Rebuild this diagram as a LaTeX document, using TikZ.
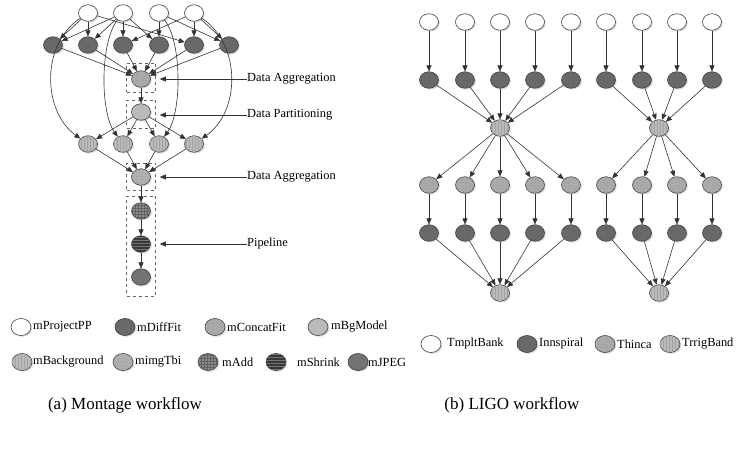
\documentclass[tikz,border=0pt]{standalone}
\usepackage{fontspec}
\setmainfont{Liberation Serif}
\usetikzlibrary{shapes.geometric,arrows.meta,shadows,patterns}
\begin{document}
\begin{tikzpicture}[x=1pt,y=-1pt,
 job/.style={ellipse,draw=black!75,line width=0.6pt,minimum width=19pt,minimum height=16.5pt,inner sep=0pt,
   drop shadow={shadow xshift=1.3pt,shadow yshift=-1.3pt,fill=black!20,opacity=0.7}},
 wjob/.style={job,fill=white},
 darkjob/.style={job,fill=black!58,postaction={pattern=crosshatch dots,pattern color=black!63}},
 crossjob/.style={job,fill=black!32,postaction={pattern=crosshatch dots,pattern color=black!42}},
 bgmjob/.style={job,fill=black!27},
 vertjob/.style={job,fill=black!27,postaction={pattern=vertical lines,pattern color=black!36}},
 tbljob/.style={job,fill=black!30,postaction={pattern=crosshatch dots,pattern color=black!40}},
 addjob/.style={job,fill=black!45,postaction={pattern=grid,pattern color=black!62}},
 shrinkjob/.style={job,fill=black!78,postaction={pattern=horizontal lines,pattern color=black!55}},
 jpegjob/.style={job,fill=black!55},
 conn/.style={draw=black!80,line width=0.6pt,-{Triangle[length=6pt,width=5pt]}},
 dbox/.style={draw=black!60,dashed,line width=0.6pt,inner sep=0pt},
 lab/.style={font=\fontsize{12.4}{14}\selectfont,anchor=west,inner sep=0pt},
 captxt/.style={font=\fontsize{17}{20}\selectfont,inner sep=0pt},
 legj/.style={minimum width=20pt,minimum height=17pt},
]
\useasboundingbox (0,0) rectangle (737,454);

% ---------------- Montage ----------------
\node[wjob] (T1) at (88,13) {};
\node[wjob] (T2) at (123,13) {};
\node[wjob] (T3) at (159,13) {};
\node[wjob] (T4) at (194,13) {};
\node[darkjob] (D1) at (53,45) {};
\node[darkjob] (D2) at (88,45) {};
\node[darkjob] (D3) at (123,45) {};
\node[darkjob] (D4) at (159,45) {};
\node[darkjob] (D5) at (194,45) {};
\node[darkjob] (D6) at (229,45) {};
\node[crossjob] (C) at (141,79) {};
\node[bgmjob] (M) at (141,112) {};
\node[vertjob] (B1) at (88,144) {};
\node[vertjob] (B2) at (123,144) {};
\node[vertjob] (B3) at (159,144) {};
\node[vertjob] (B4) at (194,144) {};
\node[tbljob] (I) at (141,177) {};
\node[addjob] (A) at (141,211) {};
\node[shrinkjob] (S) at (141,244) {};
\node[jpegjob] (J) at (141,277) {};

\node[dbox,minimum width=29pt,minimum height=29pt] (box1) at (141,77.5) {};
\node[dbox,minimum width=29pt,minimum height=28pt] (box2) at (141,114) {};
\node[dbox,minimum width=29pt,minimum height=27pt] (box3) at (141,176.5) {};
\node[dbox,minimum width=29pt,minimum height=100pt] (box4) at (141,246) {};

\foreach \a/\b in {T1/D1,T1/D2,T1/D5,T2/D1,T2/D2,T2/D3,T2/D4,T3/D4,T3/D6,T4/D3,T4/D5,T4/D6,
  D1/C,D2/C,D3/C,D4/C,D5/C,D6/C,C/M,M/B1,M/B2,M/B3,M/B4,B1/I,B2/I,B3/I,B4/I,I/A,A/S,S/J}
  \draw[conn] (\a) -- (\b);
\draw[conn] (T1) .. controls (40,45) and (43,112) .. (B1);
\draw[conn] (T2) .. controls (100,42) and (100,112) .. (B2);
\draw[conn] (T3) .. controls (182,42) and (182,112) .. (B3);
\draw[conn] (T4) .. controls (242,45) and (240,112) .. (B4);

\node[lab] (L1) at (247,79) {Data Aggregation};
\node[lab] (L2) at (247,115) {Data Partitioning};
\node[lab] (L3) at (247,177) {Data Aggregation};
\node[lab] (L4) at (247,244) {Pipeline};
\draw[conn,shorten >=4pt] (L1.west) -- (L1.west -| box1.east);
\draw[conn,shorten >=4pt] (L2.west) -- (L2.west -| box2.east);
\draw[conn,shorten >=4pt] (L3.west) -- (L3.west -| box3.east);
\draw[conn,shorten >=4pt] (L4.west) -- (L4.west -| box4.east);

% Montage legend
\node[wjob,legj] (k1) at (21,327) {};
\node[lab] (k1t) at (33,327) {mProjectPP};
\node[darkjob,legj] (k2) at (125,327) {};
\node[lab] (k2t) at (137,327) {mDiffFit};
\node[crossjob,legj] (k3) at (215,327) {};
\node[lab] (k3t) at (227,327) {mConcatFit};
\node[bgmjob,legj] (k4) at (318,327) {};
\node[lab] (k4t) at (331,327) {mBgModel};
\node[vertjob,legj] (k5) at (22,362) {};
\node[lab] (k5t) at (33,362) {mBackground};
\node[tbljob,legj] (k6) at (123,362) {};
\node[lab] (k6t) at (135,362) {mimgTbi};
\node[addjob,legj] (k7) at (208,362) {};
\node[lab] (k7t) at (222,362) {mAdd};
\node[shrinkjob,legj] (k8) at (276,362) {};
\node[lab] (k8t) at (297,362) {mShrink};
\node[jpegjob,legj] (k9) at (358,362) {};
\node[lab] (k9t) at (368,362) {mJPEG};

% ---------------- LIGO ----------------
\foreach \i/\x in {1/429,2/465,3/500,4/535,5/571,6/606,7/642,8/677,9/712}{
  \node[wjob] (lt\i) at (\x,22) {};
  \node[darkjob] (li\i) at (\x,80) {};
  \node[crossjob] (lb\i) at (\x,185) {};
  \node[darkjob] (lj\i) at (\x,233) {};
}
\node[vertjob] (lc1) at (500,128) {};
\node[vertjob] (lc2) at (659,128) {};
\node[vertjob] (ld1) at (500,293) {};
\node[vertjob] (ld2) at (659,293) {};
\foreach \i in {1,...,9}{
  \draw[conn] (lt\i) -- (li\i);
  \draw[conn] (lb\i) -- (lj\i);
}
\foreach \i in {1,...,5}{
  \draw[conn] (li\i) -- (lc1);
  \draw[conn] (lc1) -- (lb\i);
  \draw[conn] (lj\i) -- (ld1);
}
\foreach \i in {6,...,9}{
  \draw[conn] (li\i) -- (lc2);
  \draw[conn] (lc2) -- (lb\i);
  \draw[conn] (lj\i) -- (ld2);
}

% LIGO legend
\node[wjob,legj] (g1) at (431,344) {};
\node[lab] (g1t) at (447,344) {TmpltBank};
\node[darkjob,legj] (g2) at (527,344) {};
\node[lab] (g2t) at (539,344) {Innspiral};
\node[crossjob,legj] (g3) at (605,344) {};
\node[lab] (g3t) at (617,344) {Thinca};
\node[vertjob,legj] (g4) at (670,344) {};
\node[lab] (g4t) at (682,344) {TrrigBand};

% captions
\node[captxt] (capa) at (125,405) {(a) Montage workflow};
\node[captxt] (capb) at (512,405) {(b) LIGO workflow};
\end{tikzpicture}
\end{document}
